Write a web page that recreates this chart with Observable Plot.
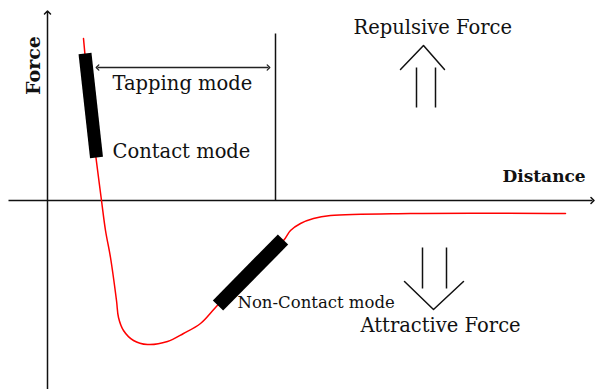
<!DOCTYPE html>
<html>
<head>
<meta charset="utf-8">
<script src="https://cdn.jsdelivr.net/npm/d3@7"></script>
<script src="https://cdn.jsdelivr.net/npm/@observablehq/plot@0.6"></script>
<style>
  html, body { margin: 0; padding: 0; background: #fff; }
  svg { display: block; }
</style>
</head>
<body>
<div id="chart"></div>
<script>
// Force–distance curve (distance and force in arbitrary units, origin at the axes crossing)
const curveDistance = [36, 44, 54, 58, 63, 69, 71, 76, 86, 100, 120, 136, 153, 168, 203, 236, 243, 253, 266, 283, 363, 518];
const curveForce    = [162, 80, 0, -30, -57, -100, -117, -130, -140, -144, -141, -133, -123, -107, -70, -40, -30, -23, -18, -15, -13, -13];

// Operating-mode segments on the curve
const modeNames = ["Contact", "Non-Contact"];
const modeDist1 = [37.5, 170.5];
const modeForce1 = [147, -105];
const modeDist2 = [49, 235.5];
const modeForce2 = [43, -39];

// Axes extents
const axisDistMin = -39, axisDistMax = 545;
const axisForceMin = -189, axisForceMax = 188;

// Tapping mode range
const tappingStart = 50, tappingEnd = 221, tappingLevel = 133;
const tappingLimitDist = 228, tappingLimitTop = 167;

// Big open arrows (repulsive up, attractive down)
const arrowNames = ["Repulsive", "Repulsive", "Repulsive", "Attractive", "Attractive", "Attractive"];
const chevronDist  = [353, 376, 397, 357, 386, 416];
const chevronForce = [131, 155, 131, -81, -109, -81];
const shaftNames = ["Repulsive", "Repulsive", "Attractive", "Attractive"];
const shaftDist = [369, 388, 375, 399];
const shaftForce1 = [133, 133, -47, -47];
const shaftForce2 = [93, 93, -88, -88];

// Labels
const labelText   = ["Tapping mode", "Contact mode", "Repulsive Force", "Distance", "Non-Contact mode", "Attractive Force", "Force"];
const labelDist   = [65, 65, 306, 455, 190, 313, -14];
const labelForce  = [117, 49, 173, 24, -102, -125, 135];
const labelSize   = [19.5, 19.5, 19.5, 17, 16.5, 19.5, 19];
const labelWeight = ["normal", "normal", "normal", "bold", "normal", "normal", "bold"];
const labelRotate = [0, 0, 0, 0, 0, 0, -90];
const labelAnchor = ["start", "start", "start", "start", "start", "start", "middle"];

const curve = curveDistance.map((d, i) => ({d, f: curveForce[i]}));
const modes = modeNames.map((n, i) => ({n, d1: modeDist1[i], f1: modeForce1[i], d2: modeDist2[i], f2: modeForce2[i]}));
const chevrons = chevronDist.map((d, i) => ({n: arrowNames[i], d, f: chevronForce[i]}));
const shafts = shaftDist.map((d, i) => ({n: shaftNames[i], d, f1: shaftForce1[i], f2: shaftForce2[i]}));
const labels = labelText.map((t, i) => ({t, d: labelDist[i], f: labelForce[i], s: labelSize[i], w: labelWeight[i], r: labelRotate[i], a: labelAnchor[i]}));

const font = "DejaVu Serif";
const textMarks = labels.map(l => Plot.text([l], {
  x: "d", y: "f", text: "t", fill: "#111", fontFamily: font, lineAnchor: "middle",
  fontSize: l.s, fontWeight: l.w, rotate: l.r, textAnchor: l.a
}));

const chart = Plot.plot({
  width: 595,
  height: 389,
  margin: 0,
  x: {domain: [-47, 548], axis: null},
  y: {domain: [-189, 200], axis: null},
  style: {background: "#fff", fontFamily: font},
  marks: [
    // axes
    Plot.link([{}], {x1: axisDistMin, x2: axisDistMax, y1: 0, y2: 0, stroke: "#111", strokeWidth: 1.5, markerEnd: "arrow"}),
    Plot.link([{}], {x1: 0, x2: 0, y1: axisForceMin, y2: axisForceMax, stroke: "#111", strokeWidth: 1.5, markerEnd: "arrow"}),
    // tapping mode limit and range
    Plot.link([{}], {x1: tappingLimitDist, x2: tappingLimitDist, y1: 0, y2: tappingLimitTop, stroke: "#111", strokeWidth: 1.5}),
    Plot.link([{}], {x1: tappingStart, x2: tappingEnd, y1: tappingLevel, y2: tappingLevel, stroke: "#222", strokeWidth: 1.3, markerStart: "arrow-reverse", markerEnd: "arrow"}),
    // curve
    Plot.line(curve, {x: "d", y: "f", stroke: "#ff0000", strokeWidth: 1.5, curve: "catmull-rom"}),
    // mode bars
    Plot.link(modes.filter(m => m.n === "Contact"), {x1: "d1", y1: "f1", x2: "d2", y2: "f2", stroke: "#000", strokeWidth: 13, strokeLinecap: "butt"}),
    Plot.link(modes.filter(m => m.n === "Non-Contact"), {x1: "d1", y1: "f1", x2: "d2", y2: "f2", stroke: "#000", strokeWidth: 14.5, strokeLinecap: "butt"}),
    // big arrows
    Plot.line(chevrons, {x: "d", y: "f", z: "n", stroke: "#111", strokeWidth: 1.5}),
    Plot.link(shafts, {x1: "d", x2: "d", y1: "f1", y2: "f2", stroke: "#111", strokeWidth: 1.5}),
    // labels
    ...textMarks
  ]
});
document.getElementById("chart").appendChild(chart);
</script>
</body>
</html>
